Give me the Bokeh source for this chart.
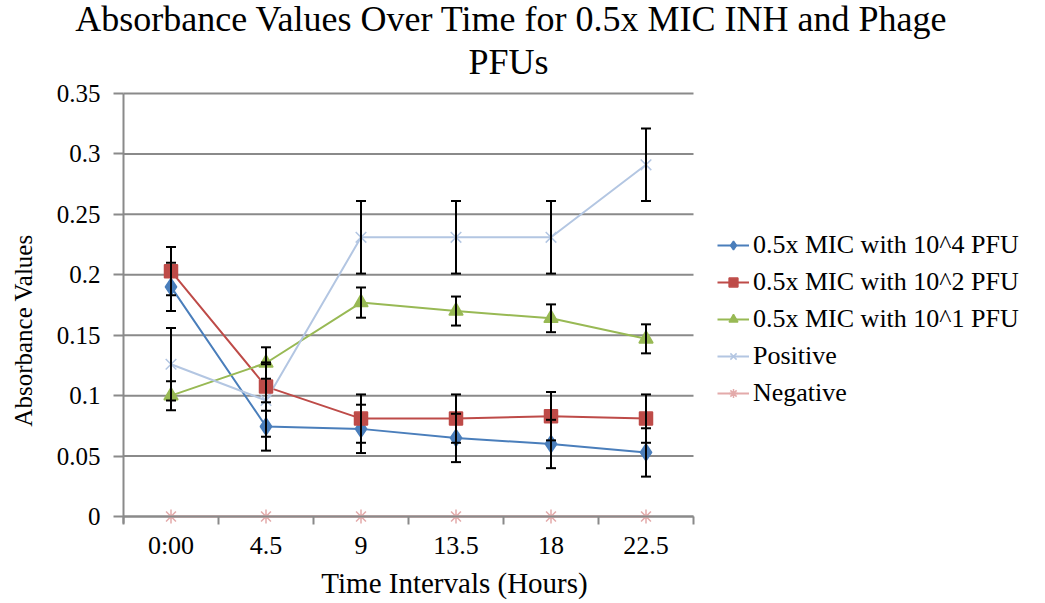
from bokeh.plotting import figure
from bokeh.models import (Range1d, FixedTicker, Legend, LegendItem, Label,
                          ColumnDataSource, Whisker, TeeHead)
from bokeh.embed import file_html
from bokeh.resources import INLINE

# ---- data ----
time_labels = ["0:00", "4.5", "9", "13.5", "18", "22.5"]
mic_1e4 = [0.190, 0.0745, 0.0725, 0.065, 0.060, 0.053]
mic_1e4_err = [0.02, 0.02, 0.02, 0.02, 0.02, 0.02]
mic_1e2 = [0.203, 0.1075, 0.081, 0.081, 0.083, 0.081]
mic_1e2_err = [0.02, 0.02, 0.02, 0.02, 0.02, 0.02]
mic_1e1 = [0.100, 0.127, 0.177, 0.170, 0.164, 0.147]
mic_1e1_err = [0.012, 0.013, 0.0125, 0.012, 0.0115, 0.012]
positive = [0.126, 0.096, 0.231, 0.231, 0.231, 0.291]
positive_err = [0.03, 0.03, 0.03, 0.03, 0.03, 0.03]
negative = [0, 0, 0, 0, 0, 0]
y_ticks = [0, 0.05, 0.1, 0.15, 0.2, 0.25, 0.3, 0.35]
y_tick_labels = ["0", "0.05", "0.1", "0.15", "0.2", "0.25", "0.3", "0.35"]

series_names = ["0.5x MIC with 10^4 PFU", "0.5x MIC with 10^2 PFU",
                "0.5x MIC with 10^1 PFU", "Positive", "Negative"]
title_line1 = "Absorbance Values  Over Time  for 0.5x MIC INH and Phage"
title_line2 = "PFUs"
x_title = "Time Intervals (Hours)"
y_title = "Absorbance Values"

FONT = "Liberation Serif"
GRID = "#8a8a8a"

n = len(time_labels)
xs = [i + 0.5 for i in range(n)]

# canvas geometry: the frame fills the whole canvas, the plot area sits inside it
W, H = 1040, 600
PX_LEFT, PX_RIGHT = 123.0, 693.0      # x = 0 .. n
PX_ZERO, PX_TOP = 516.0, 93.0         # y = 0 .. 0.35
sx = (PX_RIGHT - PX_LEFT) / n
sy = (PX_ZERO - PX_TOP) / 0.35

def px_to_x(px):
    return (px - PX_LEFT) / sx

def py_to_y(py):
    return (PX_ZERO - py) / sy

p = figure(width=W, height=H,
           x_range=Range1d(px_to_x(0), px_to_x(W)),
           y_range=Range1d(py_to_y(H), py_to_y(0)),
           output_backend="svg", toolbar_location=None,
           min_border_left=0, min_border_right=0, min_border_top=0, min_border_bottom=0)
p.outline_line_color = None
p.title = None
p.background_fill_color = "white"
p.border_fill_color = "white"
p.xgrid.visible = False
p.ygrid.visible = False

# horizontal gridlines across the plot area only
p.segment(x0=[0] * len(y_ticks), x1=[n] * len(y_ticks), y0=y_ticks, y1=y_ticks,
          line_color=GRID, line_width=2)

# axes
p.yaxis.fixed_location = 0
p.yaxis.bounds = (py_to_y(PX_ZERO + 7), y_ticks[-1])
p.yaxis.ticker = FixedTicker(ticks=y_ticks)
p.yaxis.major_label_overrides = {t: l for t, l in zip(y_ticks, y_tick_labels)}
p.yaxis.axis_line_color = GRID
p.yaxis.axis_line_width = 2
p.yaxis.major_tick_line_color = GRID
p.yaxis.major_tick_line_width = 2
p.yaxis.major_tick_out = 10
p.yaxis.major_tick_in = 0
p.yaxis.minor_tick_line_color = None
p.yaxis.major_label_standoff = 13
p.yaxis.major_label_text_font = FONT
p.yaxis.major_label_text_font_size = "25px"
p.yaxis.major_label_text_color = "black"

p.xaxis.fixed_location = 0
p.xaxis.bounds = (0, n)
p.xaxis.ticker = FixedTicker(ticks=xs, minor_ticks=list(range(n + 1)))
p.xaxis.major_label_overrides = {x: l for x, l in zip(xs, time_labels)}
p.xaxis.axis_line_color = GRID
p.xaxis.axis_line_width = 2
p.xaxis.major_tick_line_color = None
p.xaxis.major_tick_out = 0
p.xaxis.major_tick_in = 0
p.xaxis.minor_tick_line_color = GRID
p.xaxis.minor_tick_line_width = 2
p.xaxis.minor_tick_out = 8
p.xaxis.minor_tick_in = 0
p.xaxis.major_label_standoff = 6
p.xaxis.major_label_text_font = FONT
p.xaxis.major_label_text_font_size = "26px"
p.xaxis.major_label_text_color = "black"

colors = ["#4A7EBB", "#BE4B48", "#98B954", "#B3C6E2", "#E3AAAA"]
markers = ["diamond", "square", "triangle", "x", "asterisk"]
sizes = [17, 13, 14, 15, 14]
values = [mic_1e4, mic_1e2, mic_1e1, positive, negative]
errors = [mic_1e4_err, mic_1e2_err, mic_1e1_err, positive_err, None]

series = []
for name, vals, err, col, mk, sz in zip(series_names, values, errors, colors, markers, sizes):
    src = ColumnDataSource(dict(x=xs, y=vals))
    ln = p.line("x", "y", source=src, line_color=col, line_width=2)
    series.append((name, ln, src, col, mk, sz, err))

for name, ln, src, col, mk, sz, err in series:
    if err is not None:
        up = [v + e for v, e in zip(src.data["y"], err)]
        lo = [v - e for v, e in zip(src.data["y"], err)]
        wsrc = ColumnDataSource(dict(x=xs, upper=up, lower=lo))
        p.add_layout(Whisker(base="x", upper="upper", lower="lower", source=wsrc,
                             line_color="black", line_width=2, level="glyph",
                             upper_head=TeeHead(size=10, line_color="black", line_width=2),
                             lower_head=TeeHead(size=10, line_color="black", line_width=2)))

items = []
for name, ln, src, col, mk, sz, err in series:
    sc = p.scatter("x", "y", source=src, marker=mk, size=sz, fill_color=col,
                   line_color=col, line_width=1.5)
    items.append(LegendItem(label=name, renderers=[ln, sc]))

legend = Legend(items=items, location=(717, H - 408), orientation="vertical",
                label_text_font=FONT, label_text_font_size="26px",
                label_text_color="black",
                glyph_width=32, glyph_height=22, label_height=22, spacing=7,
                padding=0, margin=0, label_standoff=4,
                border_line_color=None, background_fill_alpha=0)
p.add_layout(legend, "center")

# titles (Bokeh draws alphabetic-baseline labels about 12px lower than asked)
BASE_FIX = 12
p.add_layout(Label(x=px_to_x(520), y=py_to_y(30 - BASE_FIX), text=title_line1,
                   text_font=FONT, text_font_size="36px", text_align="center",
                   text_baseline="alphabetic", text_color="black"))
p.add_layout(Label(x=px_to_x(508), y=py_to_y(73 - BASE_FIX), text=title_line2,
                   text_font=FONT, text_font_size="36px", text_align="center",
                   text_baseline="alphabetic", text_color="black"))
p.add_layout(Label(x=px_to_x(454), y=py_to_y(594 - BASE_FIX), text=x_title,
                   text_font=FONT, text_font_size="29px", text_align="center",
                   text_baseline="alphabetic", text_color="black"))
p.add_layout(Label(x=px_to_x(23), y=py_to_y(330), text=y_title,
                   text_font=FONT, text_font_size="25px", text_align="center",
                   text_baseline="middle", angle=1.5708, text_color="black"))

open("out.html", "w").write(file_html(p, INLINE))
